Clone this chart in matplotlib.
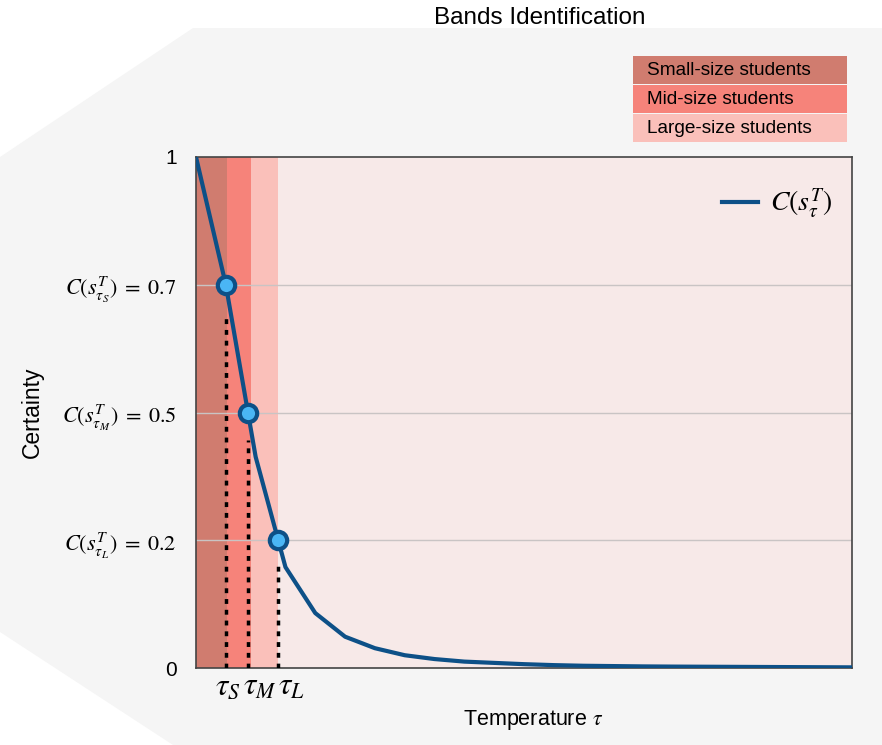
import numpy as np
import matplotlib
matplotlib.use("Agg")
import matplotlib.pyplot as plt
from matplotlib.patches import Polygon, Rectangle
from matplotlib.transforms import ScaledTranslation

plt.rcParams['font.family'] = ['Liberation Sans', 'DejaVu Sans']
plt.rcParams['mathtext.fontset'] = 'stix'

# ---- data ----
temperature = np.arange(0, 23)
certainty = [1.0, 0.7, 0.396, 0.158, 0.086, 0.049, 0.031, 0.020, 0.014, 0.010,
             0.008, 0.006, 0.0045, 0.0035, 0.003, 0.0025, 0.0022, 0.002, 0.0018,
             0.0016, 0.0014, 0.0012, 0.001]
thresh_tau = [1.0, 1.745, 2.75]
thresh_c = [0.7, 0.5, 0.2]
dash_top = [0.648, 0.435, 0.168]
band_edges = [0.0, 1.04, 1.85, 2.75]
band_names = ["Small-size students", "Mid-size students", "Large-size students"]
band_colors = ["#d07c6f", "#f6837a", "#fac0ba"]
ytick_vals = [0, 0.2, 0.5, 0.7, 1]
ytick_labels = ["0", r"$C(s^{T}_{\tau_L})\;=\;0.2$", r"$C(s^{T}_{\tau_M})\;=\;0.5$",
                r"$C(s^{T}_{\tau_S})\;=\;0.7$", "1"]
xtick_labels = [r"$\tau_S$", r"$\tau_M$", r"$\tau_L$"]
x_max = 22

ylev = np.array(ytick_vals, dtype=float)
ypos = np.arange(len(ylev), dtype=float)

def fwd(v):
    return np.interp(v, ylev, ypos, left=-1e-9, right=ypos[-1])

def inv(p):
    return np.interp(p, ypos, ylev)

W, H = 882, 745
fig = plt.figure(figsize=(W / 100, H / 100), dpi=100)
fig.patch.set_facecolor("white")

# grey background shape
poly = Polygon([(0 / W, 1 - 157 / H), (193 / W, 1 - 28 / H), (1, 1 - 28 / H), (1, 0),
                (173 / W, 0), (0, 1 - 632 / H)], closed=True, transform=fig.transFigure,
               facecolor="#f5f5f5", edgecolor="none", zorder=-5)
fig.patches.append(poly)

ax = fig.add_axes([196 / W, 1 - 668 / H, (852 - 196) / W, (668 - 157) / H])
ax.set_zorder(2)
ax.set_facecolor("#f7e9e8")
ax.set_yscale('function', functions=(fwd, inv))
ax.set_xlim(0, x_max)
ax.set_ylim(0, 1)

for i in range(3):
    ax.axvspan(band_edges[i], band_edges[i + 1], color=band_colors[i], lw=0, zorder=1)

for v in [0.2, 0.5, 0.7]:
    ax.axhline(v, color="#c9c4c4", lw=1.0, zorder=2)

for xt, yt in zip(thresh_tau, dash_top):
    ax.plot([xt, xt], [0, yt], color="black", lw=2.5, dashes=(1.4, 1.7), zorder=3,
            dash_capstyle='butt')

ax.plot(temperature, certainty, color="#0d5087", lw=3.0, zorder=4,
        label=r"$C(s^{T}_{\tau})$", solid_joinstyle='round')
ax.plot(thresh_tau, thresh_c, linestyle="none", marker="o", markersize=12.5,
        markerfacecolor="#4ab6f5", markeredgecolor="#0d5087", markeredgewidth=3.0, zorder=5)

ax.set_yticks(ytick_vals)
ax.set_yticklabels(ytick_labels)
ax.set_xticks(thresh_tau)
ax.set_xticklabels(xtick_labels)
ax.tick_params(axis='both', length=0)
ax.tick_params(axis='y', pad=14, labelsize=16)
ax.tick_params(axis='x', pad=3)
for lbl in ax.get_yticklabels():
    if lbl.get_text() in ("0", "1"):
        lbl.set_fontsize(15)
x_offsets_px = [-11, -5, 0]
for lbl, off in zip(ax.get_xticklabels(), x_offsets_px):
    lbl.set_fontsize(22.5)
    lbl.set_horizontalalignment('left')
    lbl.set_transform(lbl.get_transform() + ScaledTranslation(off / 100, 0, fig.dpi_scale_trans))

for s in ax.spines.values():
    s.set_color("#444444")
    s.set_linewidth(1.2)

ax.set_ylabel("Certainty", fontsize=16.5)
ax.yaxis.set_label_coords(-(196 - 32) / (852 - 196), 0.5)
ax.set_xlabel(r"Temperature $\tau$", fontsize=15.5)
ax.xaxis.set_label_coords(0.5 + 9 / 656, -(720 - 668) / (668 - 157))
ax.xaxis.label.set_verticalalignment('center')
ax.yaxis.label.set_verticalalignment('center')

leg = ax.legend(loc="upper right", frameon=False, fontsize=20, handlelength=1.3,
                handletextpad=0.45, bbox_to_anchor=(1.0, 0.98), borderaxespad=0.3)
for h in leg.get_lines():
    h.set_linewidth(3.0)

# band legend boxes
fig.text(540 / W, 1 - 18 / H, "Bands Identification", ha="center", va="center", fontsize=17.5)
box_top = [56, 85, 114]
for i in range(3):
    y0 = box_top[i]
    fig.patches.append(Rectangle((633 / W, 1 - (y0 + 28) / H), (847 - 633) / W, 28 / H,
                                 transform=fig.transFigure, facecolor=band_colors[i],
                                 edgecolor="none", zorder=1))
    fig.text(647 / W, 1 - (y0 + 14.5) / H, band_names[i], ha="left", va="center", fontsize=13.7)

fig.savefig("out.png", dpi=100, facecolor=fig.get_facecolor())
